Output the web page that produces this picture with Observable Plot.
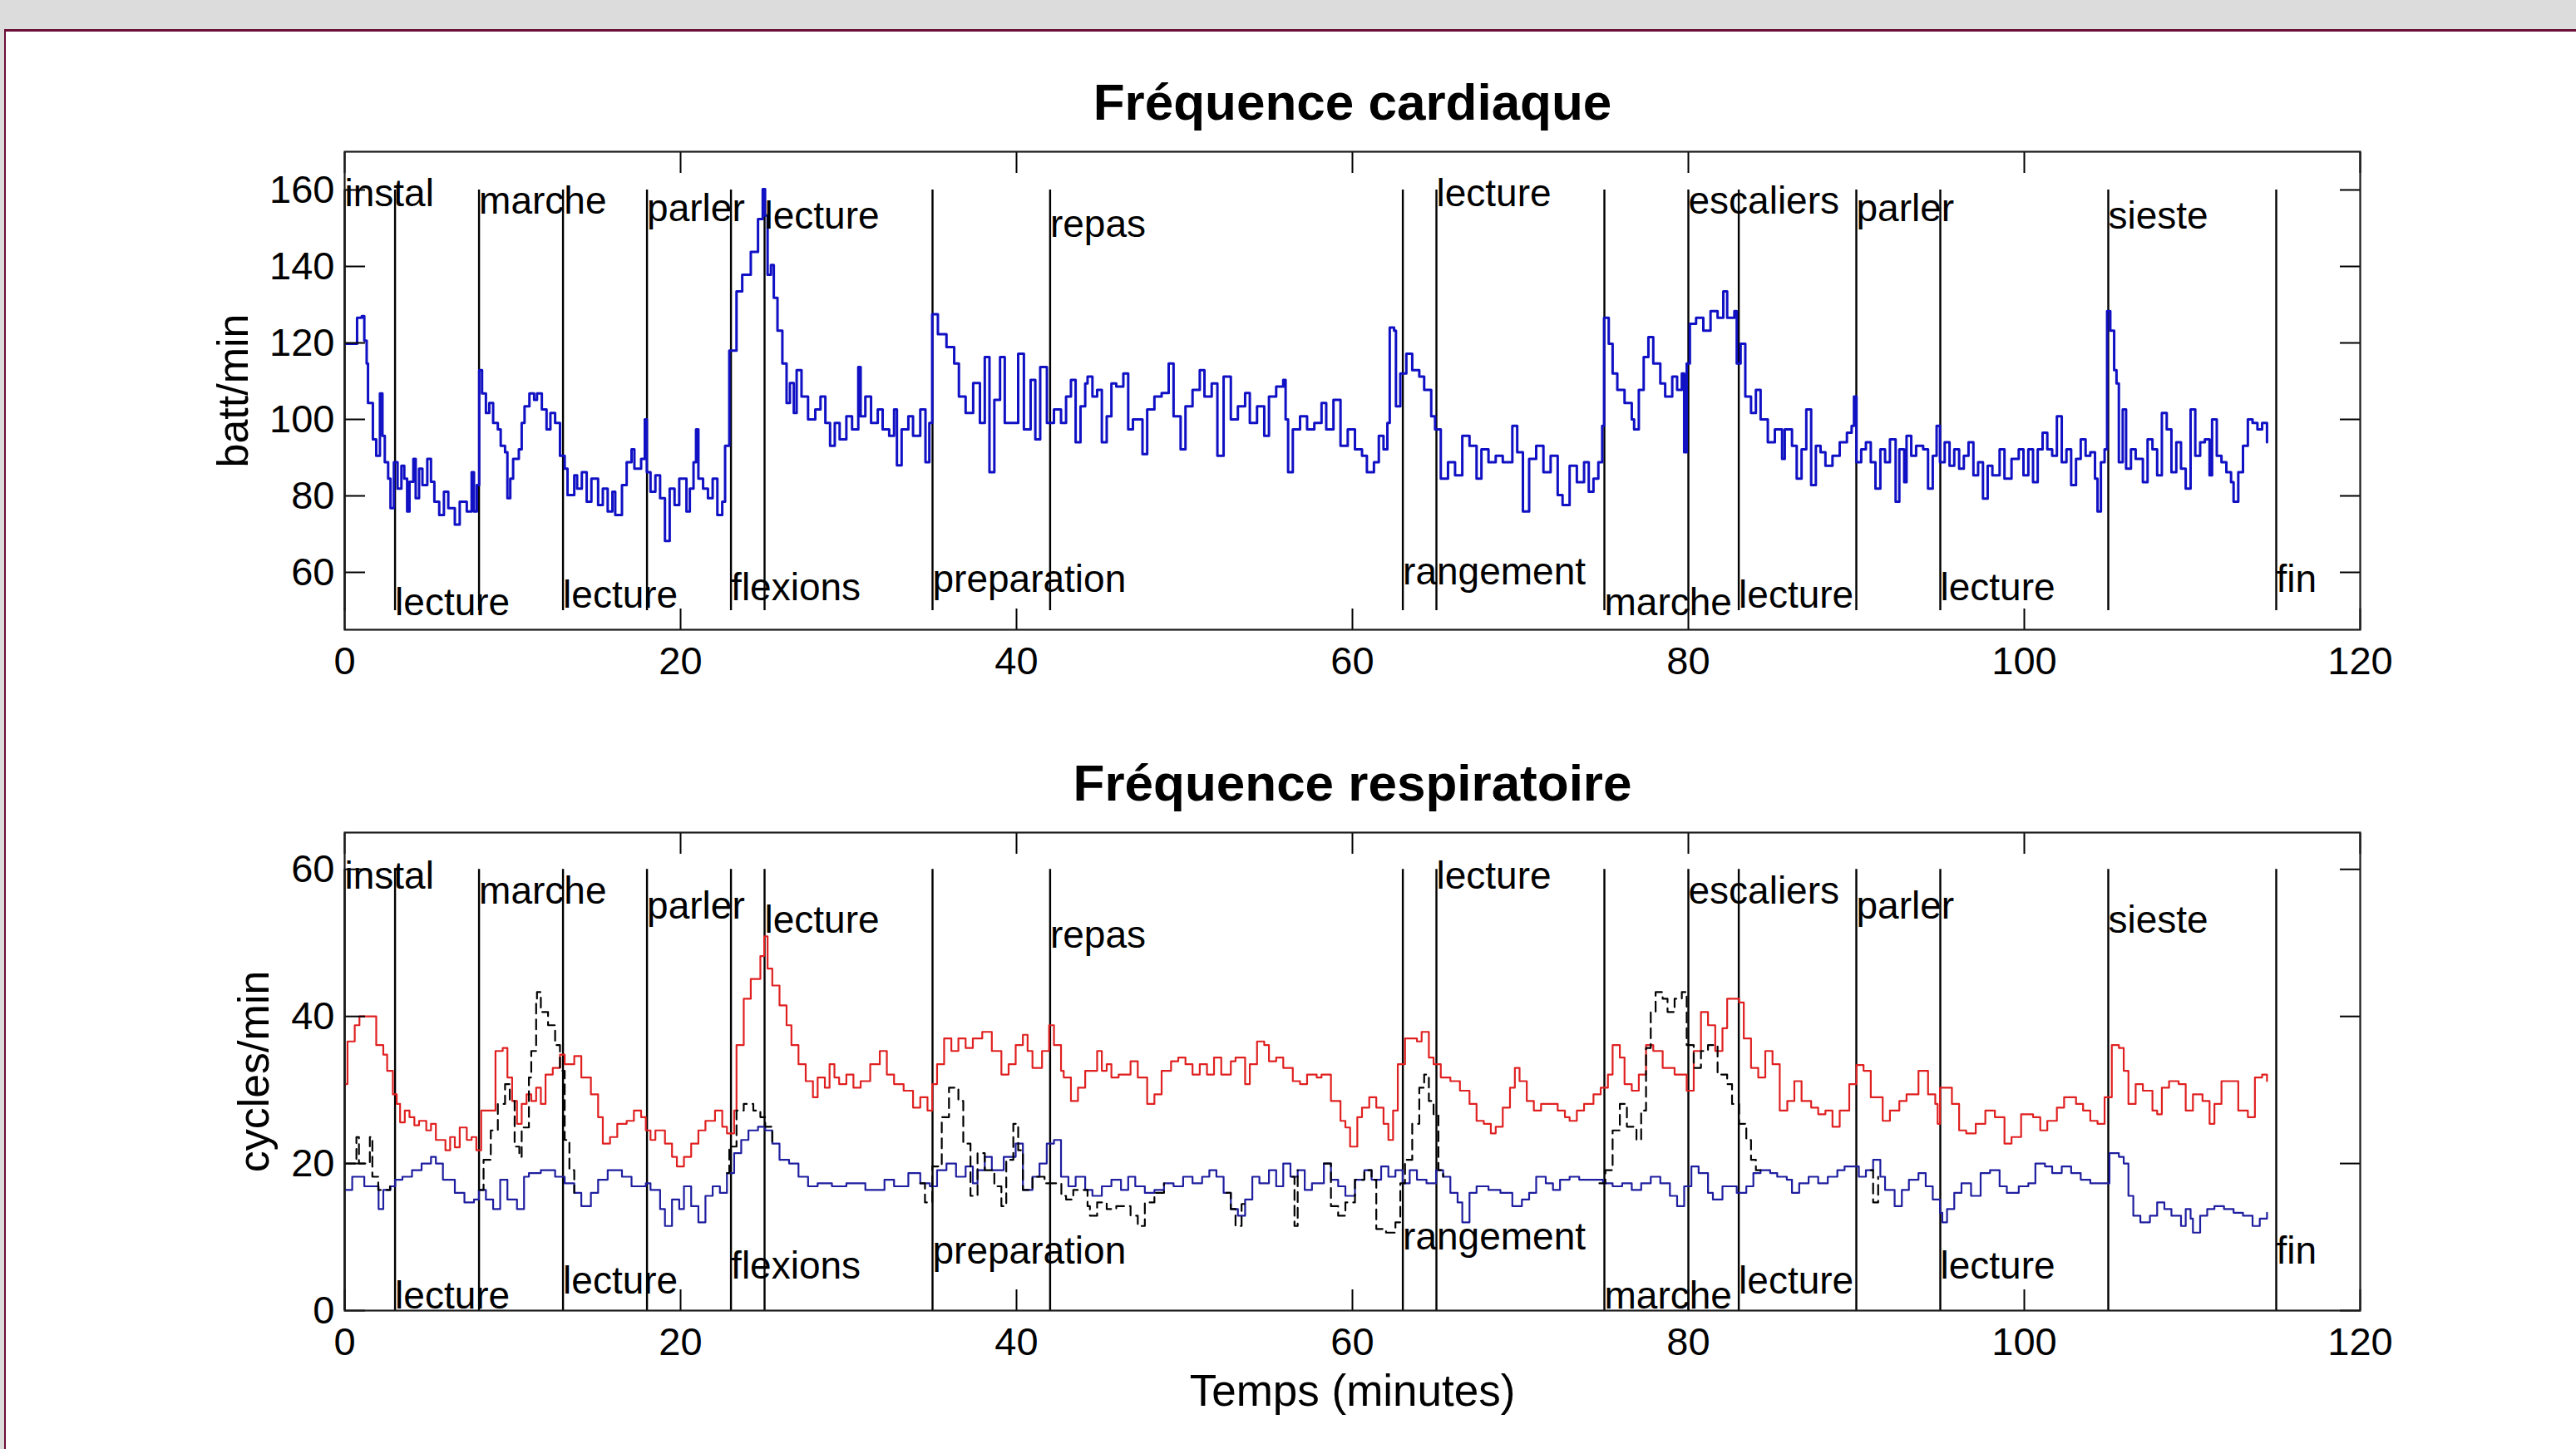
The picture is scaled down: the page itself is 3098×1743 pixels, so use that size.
<!DOCTYPE html>
<html><head><meta charset="utf-8">
<script src="https://cdn.jsdelivr.net/npm/d3@7"></script>
<script src="https://cdn.jsdelivr.net/npm/@observablehq/plot@0.6"></script>
<style>
html,body{margin:0;padding:0;background:#fff;}
body{width:3098px;height:1743px;position:relative;overflow:hidden;font-family:"Liberation Sans",Arial,Helvetica,sans-serif;}
#band{position:absolute;left:0;top:0;width:3098px;height:35px;background:#dcdcdc;}
#bandL{position:absolute;left:0;top:0;width:5px;height:1743px;background:#dcdcdc;}
#lineT{position:absolute;left:5px;top:35px;width:3093px;height:3px;background:#6b1038;}
#lineL{position:absolute;left:5px;top:35px;width:2px;height:1708px;background:#6b1038;}
#chartTop,#chartBottom{position:absolute;left:0;}
#chartTop{top:0}
#chartBottom{top:880px}
</style></head>
<body>
<div id="band"></div><div id="bandL"></div><div id="lineT"></div><div id="lineL"></div>
<div id="chartTop"></div><div id="chartBottom"></div>
<script>
const eventTimes = [0,3,8,13,18,23,25,35,42,63,65,75,80,83,90,95,105,115];
const eventLabels = ["instal","lecture","marche","lecture","parler","flexions","lecture","preparation","repas","rangement","lecture","marche","escaliers","lecture","parler","lecture","sieste","fin"];
const xTicks = [0,20,40,60,80,100,120];
const hrTicks = [60,80,100,120,140,160];
const respTicks = [0,20,40,60];

const hr = [
[0.03,119.8],[0.74,126.6],[1.02,127.0],[1.17,120.6],[1.31,114.6],[1.39,104.3],[1.68,94.8],[1.88,90.5],[2.10,106.8],[2.25,95.7],[2.39,88.8],[2.59,84.5],[2.73,76.8],[2.93,88.8],[3.15,81.9],[3.38,87.9],[3.55,84.5],[3.72,75.9],[3.86,83.7],[4.09,89.7],[4.23,79.4],[4.43,87.1],[4.63,82.8],[4.92,89.7],[5.14,83.7],[5.34,78.5],[5.63,75.0],[5.91,81.1],[6.17,76.8],[6.56,72.5],[6.85,78.5],[7.27,75.9],[7.56,86.2],[7.70,75.9],[7.87,82.8],
[8.01,112.9],[8.18,106.8],[8.41,101.7],[8.61,104.3],[8.84,99.1],[9.12,97.4],[9.29,93.1],[9.55,91.4],[9.69,79.4],[9.86,84.5],[10.03,89.7],[10.37,92.2],[10.54,99.1],[10.71,103.4],[11.0,106.8],[11.28,105.1],[11.45,106.8],[11.74,102.6],[12.02,97.4],[12.25,101.7],[12.53,99.1],[12.82,90.5],[13.1,87.1],[13.27,80.2],[13.67,85.4],[13.84,81.9],[14.12,86.2],[14.41,78.5],[14.69,84.5],[15.09,77.6],[15.37,81.9],[15.66,75.9],[15.94,81.1],[16.11,75.0],[16.51,82.8],[16.79,88.8],[17.08,92.2],[17.25,87.1],[17.65,89.7],[17.87,100.0],[17.99,86.2],
[18.21,81.1],[18.5,85.4],[18.78,79.4],[19.07,68.2],[19.35,81.9],[19.64,77.6],[19.92,84.5],[20.35,75.9],[20.55,81.9],[20.77,88.8],[20.92,97.4],[21.06,84.5],[21.34,81.9],[21.63,79.4],[21.91,84.5],[22.19,75.0],[22.48,78.5],[22.65,93.1],[22.9,118.0],[23.33,133.5],[23.67,137.8],[24.18,143.8],[24.61,152.4],[24.89,160.2],[25.03,153.3],[25.18,137.8],[25.38,140.4],[25.55,131.8],[25.77,123.2],[26.06,114.6],[26.31,104.3],[26.51,109.5],[26.74,101.7],[26.91,112.9],[27.2,106.0],[27.59,100.0],[28.02,102.6],[28.33,106.0],[28.62,99.1],[28.9,93.1],[29.18,99.1],[29.47,94.8],[29.87,100.8],[30.21,97.4],[30.58,113.7],[30.72,100.8],[31.0,106.0],[31.34,99.1],[31.74,102.6],[32.03,97.4],[32.42,95.7],[32.71,102.6],[32.88,88.0],[33.16,97.4],[33.56,100.8],[33.84,95.7],[34.27,102.6],[34.58,88.8],[34.81,99.1],
[34.98,127.5],[35.32,122.3],[35.83,118.9],[36.29,114.6],[36.57,106.0],[36.97,101.7],[37.42,109.5],[37.82,99.1],[38.11,116.3],[38.39,86.2],[38.68,105.1],[39.02,116.3],[39.3,99.1],[40.1,117.2],[40.44,97.4],[40.84,110.3],[41.12,94.8],[41.41,113.7],[41.81,99.1],[42.23,102.6],[42.65,99.1],
[42.95,106.0],[43.24,110.3],[43.52,94.0],[43.81,103.4],[44.09,109.4],[44.23,111.2],[44.52,106.0],[44.8,107.7],[45.08,94.0],[45.37,100.8],[45.65,109.4],[45.94,108.6],[46.36,112.0],[46.65,97.4],[46.93,100.0],[47.5,90.9],[47.78,102.6],[48.21,106.0],[48.64,106.9],[49.06,114.6],[49.35,100.8],[49.77,92.2],[50.06,103.4],[50.48,107.7],[50.91,112.9],[51.19,106.0],[51.62,109.4],[51.96,90.5],[52.33,111.2],[52.76,100.0],[53.18,103.4],[53.61,106.9],[53.89,99.1],[54.32,103.4],[54.75,95.7],[55.03,106.0],[55.46,108.6],[55.88,110.3],[56.02,100.0],[56.17,86.2],[56.45,97.4],[56.88,100.8],[57.3,97.4],[57.73,99.1],[58.16,104.3],[58.44,97.4],[58.87,105.1],[59.29,93.1],[59.72,97.4],[60.15,92.2],[60.57,90.5],[60.86,86.2],[61.28,88.8],[61.57,95.7],[61.85,92.2],[62.08,99.1],[62.22,124.0],[62.48,123.2],[62.59,103.4],[62.85,112.0],[63.21,117.2],[63.56,112.9],[63.98,111.2],[64.27,107.7],[64.69,100.8],[64.92,97.4],[65.26,84.5],[65.69,88.8],[66.11,85.4],[66.54,95.7],[66.97,93.1],[67.39,84.5],[67.68,92.2],[68.1,88.8],[68.53,90.5],[68.95,88.8],[69.52,98.3],[69.81,91.4],[70.15,75.9],[70.52,89.7],[70.94,93.1],[71.37,86.2],[71.8,90.5],[72.22,80.2],[72.51,77.6],[72.93,87.9],[73.36,83.6],[73.79,88.8],[74.07,81.1],[74.35,84.5],[74.64,88.8],[74.87,98.3],
[74.98,126.6],[75.26,119.8],[75.49,112.0],[75.77,107.7],[76.2,104.3],[76.63,100.0],[76.77,97.4],[77.05,107.7],[77.34,116.3],[77.62,121.5],[77.91,114.6],[78.33,109.4],[78.62,106.0],[79.04,111.2],[79.33,107.7],[79.61,112.0],[79.75,91.4],[79.9,114.6],[80.09,125.0],[80.46,126.6],[80.89,123.2],[81.32,128.3],[81.74,126.6],[82.08,133.5],[82.31,126.6],[82.74,128.3],[82.88,114.6],[83.11,119.8],[83.39,106.0],[83.73,101.7],[84.02,107.7],[84.3,100.0],[84.73,94.0],[85.15,97.4],[85.58,89.7],
[85.74,97.4],[86.17,93.1],[86.45,84.5],[86.74,92.2],[87.02,102.6],[87.31,82.8],[87.59,93.1],[87.87,91.4],[88.16,87.9],[88.58,90.5],[89.01,94.0],[89.44,96.5],[89.72,98.3],[89.86,106.0],[90.01,88.8],[90.29,92.2],[90.57,94.0],[90.86,88.8],[91.14,81.9],[91.43,92.2],[91.71,88.8],[92.0,94.8],[92.34,78.5],[92.56,92.2],[92.85,83.6],[92.99,95.7],[93.27,90.5],[93.56,93.1],[93.98,92.2],[94.27,81.9],[94.55,90.5],[94.78,98.3],[94.98,88.8],[95.26,94.0],[95.55,87.9],[95.83,92.2],[96.12,87.1],[96.4,90.5],[96.68,94.0],[96.97,85.4],[97.25,88.8],[97.54,79.3],[97.82,87.9],[98.1,85.4],[98.53,92.2],[98.82,84.5],[99.24,89.7],[99.67,92.2],[99.95,85.4],[100.24,92.2],[100.52,83.6],[100.8,92.2],[101.09,96.5],[101.37,92.2],[101.66,90.5],[101.94,100.8],[102.23,88.8],[102.51,92.2],[102.79,82.8],[103.08,89.7],[103.36,94.8],[103.65,90.5],[103.93,91.4],[104.21,84.5],[104.36,75.9],[104.56,88.8],[104.78,92.2],
[104.93,128.3],[105.12,123.2],[105.35,112.9],[105.49,109.4],[105.63,88.8],[105.86,102.6],[106.06,87.1],[106.35,92.2],[106.63,89.7],[107.06,83.6],[107.34,94.8],[107.63,92.2],[107.91,85.4],[108.19,101.7],[108.48,97.4],[108.76,86.2],[109.05,94.0],[109.33,87.1],[109.61,81.9],[109.9,102.6],[110.18,90.5],[110.47,94.0],[110.75,94.8],[111.03,85.4],[111.18,100.0],[111.46,90.5],[111.74,88.8],[112.03,86.2],[112.31,83.6],[112.46,78.5],[112.74,86.2],[113.02,93.1],[113.31,100.0],[113.59,99.1],[113.88,97.4],[114.16,99.1],[114.45,94.0]
];

const respRed = [
[0.03,30.8],[0.17,36.6],[0.6,38.8],[0.88,40.0],[1.68,40.0],[1.88,36.1],[2.3,34.8],[2.53,32.6],[2.87,29.4],[3.1,28.1],[3.3,25.6],[3.58,27.2],[3.86,26.3],[4.15,25.2],[4.43,25.8],[4.86,24.5],[5.14,25.4],[5.43,23.2],[6.0,21.8],[6.28,23.6],[6.56,22.2],[6.85,24.9],[7.27,23.2],[7.56,23.6],[7.84,21.8],[8.13,27.2],[8.98,35.3],[9.41,35.7],[9.69,31.7],[9.97,28.5],[10.26,25.4],[10.54,28.1],[10.83,29.4],[11.11,28.5],[11.4,30.3],[11.68,28.1],[11.96,32.1],[12.39,33.0],[12.82,34.8],[13.1,33.5],[13.67,34.6],[14.09,31.7],[14.66,29.4],[15.09,26.3],[15.37,22.7],[15.8,23.6],[16.23,25.4],[16.79,25.8],[17.22,27.2],[17.65,26.3],[17.93,24.5],[18.21,23.2],[18.5,24.5],[19.07,22.7],[19.49,20.9],[19.78,19.6],[20.2,20.9],[20.63,22.7],[21.06,24.5],[21.48,25.8],[22.05,27.2],[22.48,25.0],[22.76,24.1],[23.19,27.2],[23.33,36.1],[23.76,42.4],[24.18,45.1],[24.75,48.2],[24.98,50.9],[25.18,46.5],[25.46,44.2],[25.89,41.5],[26.31,38.8],[26.6,36.1],[27.02,33.5],[27.45,31.2],[27.88,29.0],[28.16,31.7],[28.59,30.3],[28.87,33.5],[29.16,31.7],[29.44,30.8],[29.87,32.1],[30.29,30.3],[30.72,31.2],[31.29,33.5],[31.86,35.3],[32.28,32.1],[32.71,30.8],[33.28,29.9],[33.84,27.6],[34.27,29.0],[34.7,27.2],[34.98,30.8],[35.27,33.5],[35.69,37.0],[36.12,35.3],[36.54,37.0],[36.97,35.7],[37.4,37.0],[37.96,37.9],[38.53,35.3],[39.1,32.1],[39.53,33.5],[39.95,36.1],[40.38,37.5],[40.66,35.3],[40.95,33.0],[41.52,35.3],[41.94,38.8],[42.23,36.1],[42.65,32.6],
[42.81,31.7],[43.24,28.5],[43.66,30.3],[44.09,32.6],[44.8,35.3],[45.08,32.6],[45.37,33.5],[45.65,31.7],[46.08,32.1],[46.79,33.9],[47.22,31.7],[47.78,28.1],[48.21,29.4],[48.64,32.6],[49.2,33.9],[49.63,34.4],[50.06,33.5],[50.48,32.1],[50.91,33.5],[51.34,32.1],[51.76,34.4],[52.19,32.1],[52.76,33.9],[53.04,34.4],[53.61,30.8],[53.89,33.5],[54.32,36.6],[54.75,36.1],[55.03,33.9],[55.46,34.4],[55.88,33.0],[56.45,31.2],[56.88,30.8],[57.3,32.1],[57.87,31.7],[58.16,32.1],[58.72,28.5],[59.29,25.8],[59.58,24.9],[59.86,22.3],[60.29,26.3],[60.57,27.6],[61.0,29.0],[61.42,27.6],[61.85,25.4],[62.14,23.2],[62.42,27.2],[62.7,33.5],[63.13,37.0],[63.84,36.6],[64.12,37.9],[64.55,34.4],[64.83,33.5],[65.26,31.7],[65.83,31.2],[66.4,29.9],[66.97,28.1],[67.39,25.8],[67.82,25.4],[68.24,24.1],[68.53,25.0],[68.95,27.6],[69.38,30.3],[69.67,33.0],[69.95,31.2],[70.38,28.5],[70.8,27.2],[71.23,28.1],[72.22,27.2],[72.65,26.3],[72.93,25.8],[73.36,27.2],[73.79,28.1],[74.35,29.4],[74.78,30.3],[75.21,32.1],[75.49,36.1],[75.92,34.4],[76.2,30.8],[76.63,29.9],[77.05,32.1],[77.48,36.1],[77.91,35.3],[78.47,33.0],[79.18,32.1],[79.9,29.9],[80.32,35.3],[80.75,40.6],[81.17,38.8],[81.6,35.3],[82.03,38.4],[82.31,42.4],[83.02,41.9],[83.3,37.0],[83.73,33.0],[84.16,31.7],[84.58,35.3],[85.01,33.5],[85.44,27.2],
[85.89,28.5],[86.31,31.2],[86.74,28.5],[87.31,27.6],[87.73,26.7],[88.16,27.2],[88.58,25.0],[89.01,27.2],[89.58,30.8],[90.01,33.4],[90.43,32.6],[90.86,29.0],[91.57,25.8],[92.0,27.2],[92.56,28.5],[92.99,29.4],[93.7,32.6],[94.27,29.4],[94.7,28.1],[94.84,25.4],[94.98,30.3],[95.69,28.1],[96.12,24.5],[96.54,24.1],[97.11,25.4],[97.68,27.2],[98.25,26.3],[98.82,22.7],[99.24,23.6],[99.81,26.7],[100.52,26.3],[100.95,24.5],[101.37,25.8],[101.94,27.6],[102.37,29.0],[103.08,28.1],[103.5,27.2],[103.93,25.8],[104.36,25.4],[104.78,29.0],[105.21,36.1],[105.63,35.7],[105.92,32.6],[106.2,28.1],[106.63,30.8],[107.06,29.9],[107.63,27.2],[107.91,26.7],[108.19,30.3],[108.62,31.2],[109.19,30.8],[109.61,27.2],[110.04,29.4],[110.61,28.5],[111.03,25.4],[111.32,28.1],[111.74,31.2],[112.31,31.2],[112.74,27.2],[113.31,26.3],[113.73,31.7],[114.16,32.1],[114.45,31.2]
];

const respBlue = [
[0.03,16.4],[0.45,18.2],[1.17,16.9],[2.02,13.8],[2.3,16.4],[2.73,16.9],[3.01,17.8],[3.44,18.2],[4.01,19.1],[4.58,20.0],[5.14,20.9],[5.43,20.0],[5.85,17.8],[6.56,16.0],[7.13,14.7],[7.7,15.1],[7.99,16.4],[8.41,15.1],[8.84,13.8],[9.26,17.8],[9.69,15.1],[10.26,13.8],[10.68,18.2],[10.97,18.7],[11.68,19.1],[12.53,18.2],[13.1,17.3],[13.67,16.0],[14.09,14.2],[14.66,16.0],[15.09,17.8],[15.66,19.1],[16.51,18.2],[17.08,16.9],[17.93,17.3],[18.21,16.4],[18.78,13.8],[19.07,11.5],[19.49,15.1],[19.92,13.8],[20.2,16.9],[20.63,14.2],[21.06,12.0],[21.48,15.6],[21.91,16.9],[22.34,16.0],[22.76,18.7],[23.19,21.4],[23.61,23.2],[24.04,24.5],[24.61,25.0],[25.04,24.5],[25.46,22.7],[25.89,20.5],[26.46,20.0],[27.02,18.2],[27.59,16.9],[28.16,17.3],[29.01,16.9],[29.87,17.3],[31.0,16.4],[32.14,17.8],[32.71,16.9],[33.56,18.7],[34.27,17.3],[34.84,16.9],[35.27,19.1],[35.83,20.0],[36.4,18.2],[36.97,19.6],[37.4,17.3],[37.68,19.1],[38.11,20.9],[38.53,19.1],[39.24,20.9],[39.95,22.7],[40.38,16.4],[40.95,18.2],[41.37,20.0],[41.8,22.7],[42.23,23.2],[42.65,18.2],
[43.09,16.9],[43.52,18.2],[44.09,16.4],[44.52,15.6],[45.08,16.9],[45.65,17.8],[46.22,16.4],[46.65,18.2],[47.07,16.9],[47.64,16.0],[48.21,16.4],[48.78,17.3],[49.35,16.9],[49.92,18.2],[50.48,17.3],[51.05,18.2],[51.48,19.1],[51.9,18.2],[52.33,16.0],[52.76,13.8],[53.18,12.9],[53.61,15.1],[54.04,18.2],[54.46,17.3],[55.03,19.1],[55.46,16.9],[55.88,20.0],[56.31,18.2],[56.74,19.1],[57.16,16.4],[57.59,17.3],[58.3,20.0],[58.72,17.8],[59.15,16.9],[59.58,15.6],[60.15,17.8],[60.71,19.1],[61.14,17.8],[61.71,19.6],[62.14,18.2],[62.56,19.1],[62.99,17.3],[63.41,19.1],[63.84,17.8],[64.41,17.3],[64.98,19.1],[65.4,18.2],[65.83,16.0],[66.26,14.7],[66.54,12.0],[66.97,16.0],[67.39,16.9],[68.1,16.4],[68.81,16.0],[69.52,14.2],[70.09,15.1],[70.52,16.0],[70.94,18.2],[71.51,17.3],[71.94,16.4],[72.36,17.8],[72.93,18.2],[73.5,17.8],[74.92,17.3],[75.49,16.9],[76.06,17.3],[76.63,16.4],[77.19,17.3],[77.76,18.2],[78.33,17.3],[78.9,15.6],[79.33,14.2],[79.75,16.9],[80.18,19.6],[80.61,18.7],[81.17,16.0],[81.46,15.1],[82.03,16.9],[82.88,16.0],[83.45,16.9],[83.87,18.7],[84.3,19.1],[84.87,18.7],[85.29,18.2],[85.86,17.8],
[86.17,16.0],[86.6,17.3],[87.16,18.2],[87.73,17.3],[88.3,18.2],[88.87,19.1],[89.3,19.6],[90.15,18.2],[90.57,19.1],[91.0,20.5],[91.43,18.2],[91.71,16.4],[92.28,14.2],[92.71,16.4],[93.13,17.8],[93.7,18.7],[94.13,16.9],[94.55,15.1],[94.98,13.3],[95.12,12.0],[95.4,13.8],[95.83,16.0],[96.26,17.3],[96.83,15.6],[97.4,18.7],[97.96,19.1],[98.53,16.9],[98.96,16.0],[99.67,16.9],[100.24,17.3],[100.66,20.0],[101.23,19.6],[101.66,18.7],[102.23,19.6],[102.79,18.7],[103.36,17.8],[103.93,17.3],[105.07,21.4],[105.63,20.9],[105.92,20.0],[106.2,15.6],[106.49,12.9],[106.91,12.0],[107.48,12.9],[107.91,14.7],[108.34,13.8],[108.76,12.9],[109.33,11.5],[109.61,13.8],[109.9,12.5],[110.04,10.6],[110.47,12.9],[110.89,13.8],[111.32,14.2],[111.89,13.8],[112.46,13.3],[113.02,12.9],[113.59,11.5],[114.02,12.5],[114.45,13.3]
];

const respBlack = [
[0.03,20.0],[0.7,23.6],[0.85,20.0],[1.5,23.6],[1.65,18.2],[2.0,16.4],[2.7,16.9],[2.71,null],
[8.0,16.4],[8.27,20.5],[8.7,24.5],[9.12,28.1],[9.55,30.8],[9.83,28.5],[10.12,22.3],[10.4,20.9],[10.54,24.9],[10.97,31.7],[11.11,35.3],[11.4,42.4],[11.45,43.3],[11.68,40.6],[12.11,38.8],[12.53,36.1],[12.82,32.6],[13.1,23.2],[13.38,19.1],[13.67,16.0],[13.68,null],
[22.76,18.7],[22.9,22.3],[23.33,27.2],[23.76,28.1],[24.33,27.2],[24.75,26.3],[25.04,25.0],[25.46,22.7],[25.47,null],
[34.27,17.3],[34.55,14.7],[34.98,19.6],[35.55,26.3],[35.98,30.3],[36.54,28.5],[36.83,22.7],[37.26,15.6],[37.68,21.4],[38.11,19.1],[38.68,16.9],[39.1,14.2],[39.39,20.5],[39.81,25.4],[40.1,21.8],[40.38,16.4],[40.95,18.2],[41.67,17.3],[42.67,15.6],[42.95,15.1],[43.38,16.4],[44.23,14.2],[44.37,12.9],[44.8,14.7],[45.37,13.8],[45.94,14.2],[46.79,12.9],[47.22,11.5],[47.64,14.7],[48.21,16.0],[48.78,17.3],[48.79,null],
[52.5,16.0],[52.76,13.8],[53.04,11.5],[53.4,14.5],[53.61,15.1],[53.62,null],
[56.4,18.2],[56.55,11.5],[56.74,19.1],[56.75,null],
[58.3,20.0],[58.72,14.2],[59.15,12.9],[59.58,14.7],[60.15,17.8],[60.71,19.1],[61.14,17.8],[61.42,11.1],[62.0,10.6],[62.56,12.0],[62.85,17.3],[63.13,20.5],[63.56,25.4],[63.98,30.3],[64.27,32.1],[64.55,28.5],[64.83,26.7],[65.12,19.1],[65.4,18.2],[65.41,null],
[74.7,17.3],[75.06,19.1],[75.49,24.5],[75.92,28.1],[76.34,25.0],[76.91,23.2],[77.19,27.2],[77.48,35.7],[77.76,40.6],[78.05,43.3],[78.47,42.4],[78.76,40.6],[79.18,42.4],[79.61,43.3],[79.9,36.1],[80.32,33.0],[80.75,35.3],[81.17,36.1],[81.74,32.1],[82.31,30.8],[82.6,28.1],[83.02,25.4],[83.45,23.2],[83.73,20.5],[84.02,19.1],[84.3,19.1],[84.31,null],
[90.86,19.1],[91.0,14.7],[91.3,18.2]
];

(function () {
const FONT = '"Liberation Sans", Arial, Helvetica, sans-serif';
const events = eventTimes.map((t, i) => ({t, label: eventLabels[i], up: i % 2 === 0, k: Math.floor(i / 2) % 5}));
const px = d => d[0], py = d => d[1];

function axes(ticksY) {
  return [
    Plot.axisX({ticks: xTicks, tickSize: -25, tickPadding: 45, strokeWidth: 2, label: null, fontSize: 47}),
    Plot.axisX({anchor: "top", ticks: xTicks, tickSize: -25, strokeWidth: 2, tickFormat: () => "", label: null}),
    Plot.axisY({ticks: ticksY, tickSize: -25, tickPadding: 37, strokeWidth: 2, label: null, fontSize: 47}),
    Plot.axisY({anchor: "right", ticks: ticksY, tickSize: -25, strokeWidth: 2, tickFormat: () => "", label: null}),
    Plot.frame({stroke: "#1a1a1a", strokeWidth: 2.2})
  ];
}

const chartTop = Plot.plot({
  width: 3098, height: 880,
  marginTop: 182, marginBottom: 123, marginLeft: 414, marginRight: 260,
  style: {background: "transparent", fontFamily: FONT, fontSize: "47px", color: "#000", overflow: "visible"},
  x: {domain: [0, 120]},
  y: {domain: [45, 170]},
  marks: [
    Plot.ruleX(events, {x: "t", y1: 50, y2: 160, stroke: "#000", strokeWidth: 2.4}),
    Plot.line(hr, {x: px, y: py, curve: "step-after", stroke: "#1010c4", strokeWidth: 3}),
    Plot.text(events, {x: "t", y: d => d.up ? 160 - (2 * d.k + 1) : 50 + 2 * (d.k + 1), text: "label", textAnchor: "start", lineAnchor: "middle", fontSize: 46, fill: "#000"}),
    ...axes(hrTicks),
    Plot.text(["Fréquence cardiaque"], {frameAnchor: "top", dy: -39, lineAnchor: "bottom", textAnchor: "middle", fontSize: 62, fontWeight: "bold"}),
    Plot.text(["batt/min"], {frameAnchor: "left", dx: -117, rotate: -90, lineAnchor: "bottom", textAnchor: "middle", fontSize: 52})
  ]
});
document.getElementById("chartTop").appendChild(chartTop);

const chartBottom = Plot.plot({
  width: 3098, height: 863,
  marginTop: 121, marginBottom: 167, marginLeft: 414, marginRight: 260,
  style: {background: "transparent", fontFamily: FONT, fontSize: "47px", color: "#000", overflow: "visible"},
  x: {domain: [0, 120]},
  y: {domain: [0, 65]},
  marks: [
    Plot.ruleX(events, {x: "t", y1: 0, y2: 60, stroke: "#000", strokeWidth: 2.4}),
    Plot.line(respRed, {x: px, y: py, curve: "step-after", stroke: "#e02020", strokeWidth: 2.2}),
    Plot.line(respBlue, {x: px, y: py, curve: "step-after", stroke: "#1e1ea0", strokeWidth: 2.2}),
    Plot.line(respBlack, {x: px, y: py, curve: "step-after", stroke: "#000", strokeWidth: 2.2, strokeDasharray: "12,7"}),
    Plot.text(events, {x: "t", y: d => d.up ? 60 - (2 * d.k + 1) : 2 * (d.k + 1), text: "label", textAnchor: "start", lineAnchor: "middle", fontSize: 46, fill: "#000"}),
    ...axes(respTicks),
    Plot.text(["Fréquence respiratoire"], {frameAnchor: "top", dy: -39, lineAnchor: "bottom", textAnchor: "middle", fontSize: 62, fontWeight: "bold"}),
    Plot.text(["cycles/min"], {frameAnchor: "left", dx: -92, rotate: -90, lineAnchor: "bottom", textAnchor: "middle", fontSize: 52}),
    Plot.text(["Temps (minutes)"], {frameAnchor: "bottom", dy: 114, lineAnchor: "bottom", textAnchor: "middle", fontSize: 53})
  ]
});
document.getElementById("chartBottom").appendChild(chartBottom);
})();
</script>
</body></html>
